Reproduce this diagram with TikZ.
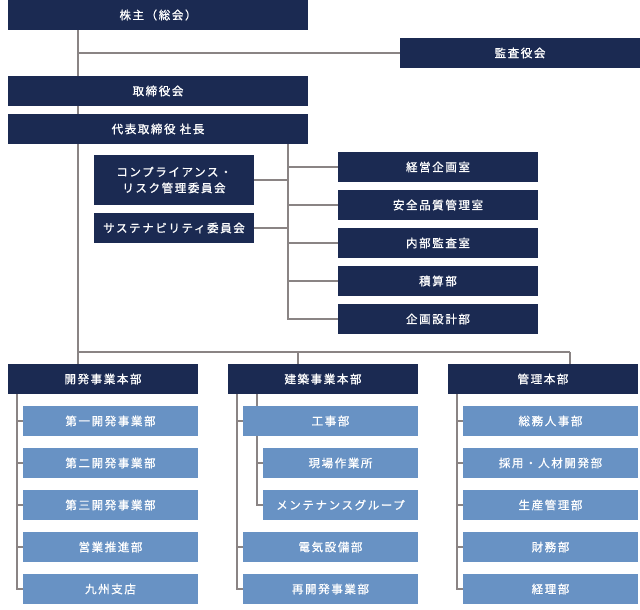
\documentclass[tikz,border=0pt]{standalone}
\usepackage{fontspec}
\setmainfont{Noto Sans CJK JP}[LetterSpace=14,FakeBold=0.9]
\definecolor{navy}{HTML}{1B2A52}
\definecolor{lblue}{HTML}{6892C4}
\definecolor{lgray}{HTML}{8A8484}
\begin{document}
\begin{tikzpicture}[x=1pt,y=-1pt,
  box/.style={fill=navy,text=white,inner sep=0pt,minimum height=30pt,align=center,font=\fontsize{11.5}{16}\selectfont},
  sub/.style={box,fill=lblue},
  ln/.style={draw=lgray,line width=1.6pt}]
\useasboundingbox (0,0) rectangle (640,610);
% top
\node[box,minimum width=300pt] (sh) at (158,15) {株主（総会）};
\node[box,minimum width=240pt] (kansa) at (520,53) {監査役会};
\node[box,minimum width=300pt] (tori) at (158,91) {取締役会};
\node[box,minimum width=300pt] (pres) at (158,129) {代表取締役 社長};
% committees
\node[box,minimum width=160pt,minimum height=50pt] (comp) at (174,180) {コンプライアンス・\\リスク管理委員会};
\node[box,minimum width=160pt] (sust) at (174,228) {サステナビリティ委員会};
% staff
\node[box,minimum width=200pt] (r1) at (438,167) {経営企画室};
\node[box,minimum width=200pt] (r2) at (438,205) {安全品質管理室};
\node[box,minimum width=200pt] (r3) at (438,243) {内部監査室};
\node[box,minimum width=200pt] (r4) at (438,281) {積算部};
\node[box,minimum width=200pt] (r5) at (438,319) {企画設計部};
% divisions
\node[box,minimum width=190pt] (d1) at (103,379) {開発事業本部};
\node[box,minimum width=190pt] (d2) at (323,379) {建築事業本部};
\node[box,minimum width=190pt] (d3) at (543,379) {管理本部};
% dev
\node[sub,minimum width=175pt] (a1) at (110.5,421) {第一開発事業部};
\node[sub,minimum width=175pt] (a2) at (110.5,463) {第二開発事業部};
\node[sub,minimum width=175pt] (a3) at (110.5,505) {第三開発事業部};
\node[sub,minimum width=175pt] (a4) at (110.5,547) {営業推進部};
\node[sub,minimum width=175pt] (a5) at (110.5,589) {九州支店};
% construction
\node[sub,minimum width=175pt] (b1) at (330.5,421) {工事部};
\node[sub,minimum width=155pt] (b2) at (340.5,463) {現場作業所};
\node[sub,minimum width=155pt] (b3) at (340.5,505) {メンテナンスグループ};
\node[sub,minimum width=175pt] (b4) at (330.5,547) {電気設備部};
\node[sub,minimum width=175pt] (b5) at (330.5,589) {再開発事業部};
% admin
\node[sub,minimum width=175pt] (c1) at (550.5,421) {総務人事部};
\node[sub,minimum width=175pt] (c2) at (550.5,463) {採用・人材開発部};
\node[sub,minimum width=175pt] (c3) at (550.5,505) {生産管理部};
\node[sub,minimum width=175pt] (c4) at (550.5,547) {財務部};
\node[sub,minimum width=175pt] (c5) at (550.5,589) {経理部};
% coordinates
\coordinate (j) at (78,352);
\coordinate (j2) at (298,352);
\coordinate (j3) at (570,352);
\coordinate (rs) at (288,0);
\coordinate (s1) at (17,0);
\coordinate (s2) at (237,0);
\coordinate (s3) at (257,0);
\coordinate (s4) at (457,0);
% main spine
\draw[ln] (sh.south -| j) -- (tori.north -| j);
\draw[ln] (kansa.west -| j) -- (kansa.west);
\draw[ln] (tori.south -| j) -- (pres.north -| j);
\draw[ln] (pres.south -| j) -- (j);
\draw[ln] (j) -- (j3);
\draw[ln] (j) -- (j |- d1.north);
\draw[ln] (j2) -- (j2 |- d2.north);
\draw[ln] (j3) -- (j3 |- d3.north);
% staff spine
\draw[ln] (pres.south -| rs) -- (r5.west -| rs) -- (r5.west);
\foreach \n in {r1,r2,r3,r4} \draw[ln] (\n.west -| rs) -- (\n.west);
\draw[ln] (comp.east) -- (comp.east -| rs);
\draw[ln] (sust.east) -- (sust.east -| rs);
% dev
\draw[ln] (d1.south -| s1) -- (a5.west -| s1) -- (a5.west);
\foreach \n in {a1,a2,a3,a4} \draw[ln] (\n.west -| s1) -- (\n.west);
% construction
\draw[ln] (d2.south -| s2) -- (b5.west -| s2) -- (b5.west);
\foreach \n in {b1,b4} \draw[ln] (\n.west -| s2) -- (\n.west);
\draw[ln] (d2.south -| s3) -- (b1.north -| s3);
\draw[ln] (b1.south -| s3) -- (b3.west -| s3) -- (b3.west);
\draw[ln] (b2.west -| s3) -- (b2.west);
% admin
\draw[ln] (d3.south -| s4) -- (c5.west -| s4) -- (c5.west);
\foreach \n in {c1,c2,c3,c4} \draw[ln] (\n.west -| s4) -- (\n.west);
\end{tikzpicture}
\end{document}
